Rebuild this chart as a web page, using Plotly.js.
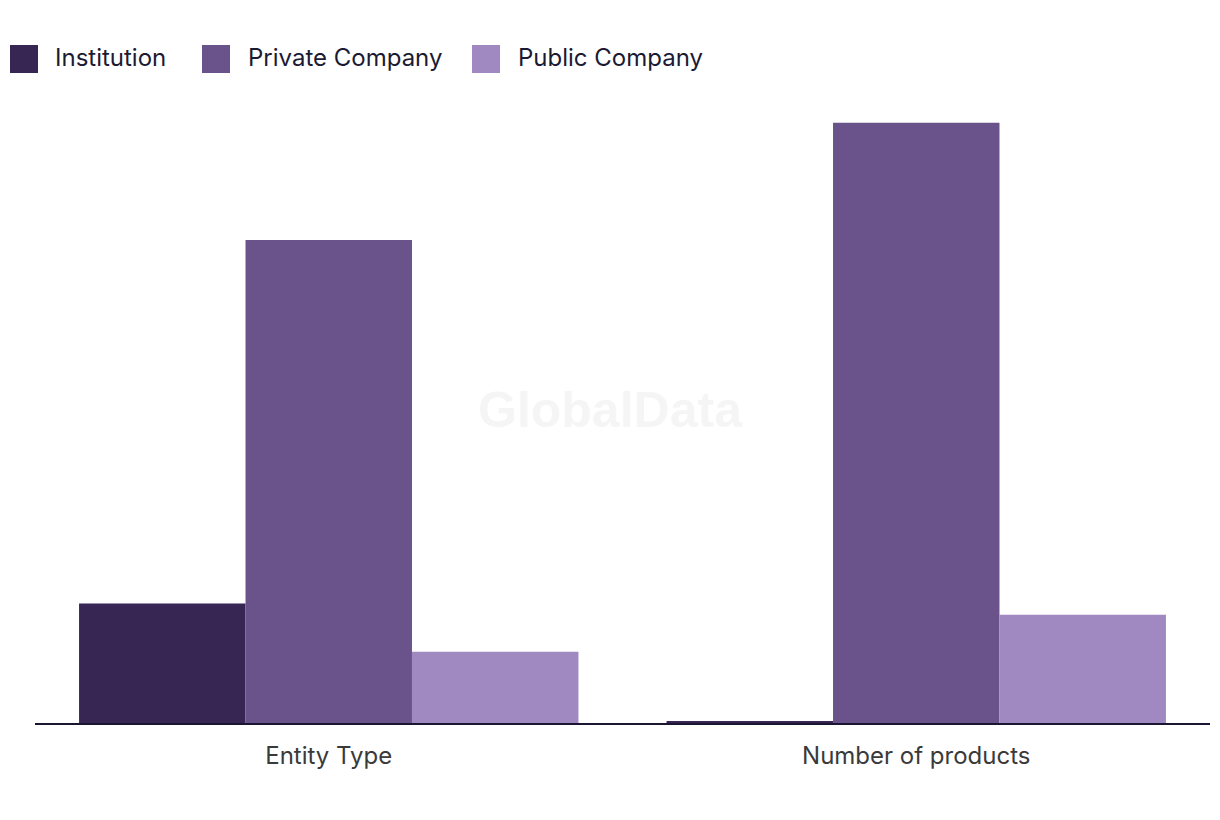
<!DOCTYPE html>
<html>
<head>
<meta charset="utf-8">
<script src="https://cdn.plot.ly/plotly-3.0.1.min.js"></script>
<style>html,body{margin:0;padding:0;background:#fff;}#chart{width:1220px;height:820px;}</style>
</head>
<body>
<div id="chart"></div>
<script>
const categories = ["Entity Type", "Number of products"];
const seriesNames = ["Institution", "Private Company", "Public Company"];
const institution = [4.95, 0.08];
const privateCompany = [20, 24.85];
const publicCompany = [2.95, 4.48];
const seriesColors = ["#372554", "#69538a", "#a088c0"];

const W = 1220, H = 820;
const mL = 35, mR = 10, mT = 95, mB = 97;
const plotW = W - mL - mR, plotH = H - mT - mB;
const px2x = p => (p - mL) / plotW;
const py2y = p => (H - mB - p) / plotH;

const values = [institution, privateCompany, publicCompany];
const traces = seriesNames.map((name, i) => ({
  type: "bar",
  name: name,
  x: categories,
  y: values[i],
  marker: {color: seriesColors[i], line: {width: 0}},
  hoverinfo: "skip"
}));

// custom legend
const legendSquareX = [10, 202, 472];
const legendTextX = [53, 246, 516];
const legendY = 59;
const shapes = seriesNames.map((n, i) => ({
  type: "rect", xref: "paper", yref: "paper",
  x0: px2x(legendSquareX[i]), x1: px2x(legendSquareX[i] + 28),
  y0: py2y(legendY + 14), y1: py2y(legendY - 14),
  fillcolor: seriesColors[i], line: {width: 0}
}));
const annotations = seriesNames.map((n, i) => ({
  text: n, xref: "paper", yref: "paper",
  x: px2x(legendTextX[i]), y: py2y(legendY - 1),
  xanchor: "left", yanchor: "middle", showarrow: false,
  font: {family: "Inter, Roboto, sans-serif", size: 24, color: "#1c1a33"}
}));
annotations.push({
  text: "<b>GlobalData</b>", xref: "paper", yref: "paper",
  x: px2x(610), y: py2y(410), xanchor: "center", yanchor: "middle",
  showarrow: false,
  font: {family: "Liberation Sans, Arial, sans-serif", size: 50, color: "#f5f5f5"}
});

const layout = {
  width: W, height: H,
  margin: {l: mL, r: mR, t: mT, b: mB},
  paper_bgcolor: "#fff", plot_bgcolor: "#fff",
  showlegend: false,
  barmode: "group", bargap: 0.15, bargroupgap: 0,
  xaxis: {
    type: "category", showline: true, linecolor: "#1a1530", linewidth: 2,
    showgrid: false, zeroline: false, ticks: "outside", ticklen: 10, tickcolor: "rgba(0,0,0,0)",
    tickfont: {family: "Inter, Roboto, sans-serif", size: 24, color: "#3a3a3a"},
    fixedrange: true
  },
  yaxis: {
    range: [0, 26], showgrid: false, zeroline: false, showline: false,
    showticklabels: false, ticks: "", fixedrange: true
  },
  shapes: shapes,
  annotations: annotations
};

Plotly.newPlot("chart", traces, layout, {displayModeBar: false, staticPlot: true});
</script>
</body>
</html>
